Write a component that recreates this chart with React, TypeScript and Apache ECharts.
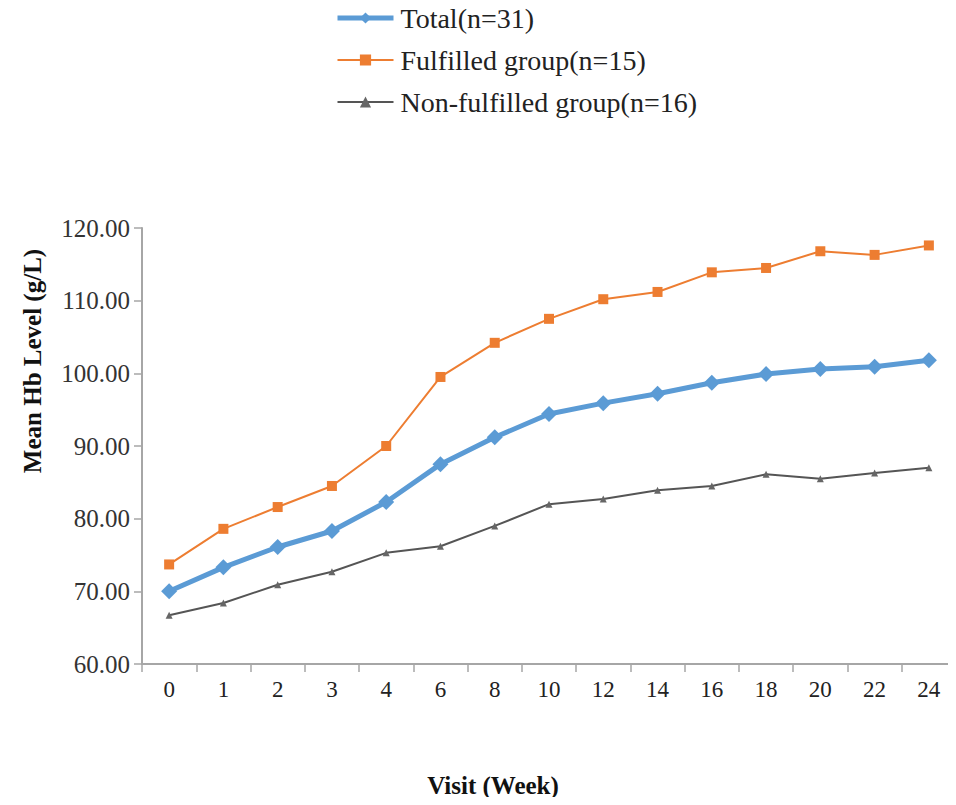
import React, { useEffect, useRef } from "react";
import * as echarts from "echarts";

const weeks = ["0", "1", "2", "3", "4", "6", "8", "10", "12", "14", "16", "18", "20", "22", "24"];
const totalValues = [70.0, 73.3, 76.1, 78.3, 82.3, 87.5, 91.2, 94.4, 95.9, 97.2, 98.7, 99.9, 100.6, 100.9, 101.8];
const fulfilledValues = [73.7, 78.6, 81.6, 84.5, 90.0, 99.5, 104.2, 107.5, 110.2, 111.2, 113.9, 114.5, 116.8, 116.3, 117.6];
const nonFulfilledValues = [66.7, 68.4, 70.9, 72.7, 75.3, 76.2, 79.0, 82.0, 82.7, 83.9, 84.5, 86.1, 85.5, 86.3, 87.0];
const seriesNames = ["Total(n=31)", "Fulfilled group(n=15)", "Non-fulfilled group(n=16)"];

const FONT = "'Liberation Serif', 'Times New Roman', serif";

export default function App() {
  const ref = useRef<HTMLDivElement>(null);
  useEffect(() => {
    if (!ref.current) return;
    const chart = echarts.init(ref.current, null, { renderer: "svg" });
    chart.setOption({
      animation: false,
      backgroundColor: "#ffffff",
      textStyle: { fontFamily: FONT },
      legend: {
        orient: "vertical",
        left: 330,
        top: -2,
        itemWidth: 56,
        itemHeight: 14,
        itemGap: 12,
        data: [
          { name: seriesNames[0], lineStyle: { width: 5 } },
          { name: seriesNames[1], lineStyle: { width: 2 } },
          { name: seriesNames[2], lineStyle: { width: 2 } },
        ],
        textStyle: { fontFamily: FONT, fontSize: 28, color: "#222", lineHeight: 30, padding: [0, 0, 0, 2] },
      },
      grid: { left: 142, top: 228, bottom: 141, right: -10 },
      xAxis: {
        type: "category",
        data: weeks,
        boundaryGap: true,
        axisLine: { lineStyle: { color: "#a6a6a6", width: 2 } },
        axisTick: { show: true, length: 8, lineStyle: { color: "#a6a6a6", width: 1.5 } },
        axisLabel: { fontFamily: FONT, fontSize: 23, color: "#222", margin: 14 },
      },
      yAxis: {
        type: "value",
        min: 60,
        max: 120,
        interval: 10,
        splitLine: { show: false },
        axisLine: { show: true, lineStyle: { color: "#a6a6a6", width: 2 } },
        axisTick: { show: true, length: 8, lineStyle: { color: "#a6a6a6", width: 1.5 } },
        axisLabel: {
          fontFamily: FONT,
          fontSize: 25,
          color: "#333",
          margin: 12,
          formatter: (v: number) => v.toFixed(2),
        },
      },
      graphic: [
        {
          type: "text",
          x: 32,
          y: 361,
          rotation: Math.PI / 2,
          style: {
            text: "Mean Hb Level (g/L)",
            font: `bold 25px ${FONT}`,
            fill: "#111",
            textAlign: "center",
            textVerticalAlign: "middle",
          },
        },
        {
          type: "text",
          x: 493,
          y: 785,
          style: {
            text: "Visit (Week)",
            font: `bold 25px ${FONT}`,
            fill: "#111",
            textAlign: "center",
            textVerticalAlign: "middle",
          },
        },
      ],
      series: [
        {
          name: seriesNames[0],
          type: "line",
          data: totalValues,
          symbol: "diamond",
          symbolSize: 16,
          lineStyle: { color: "#5B9BD5", width: 5 },
          itemStyle: { color: "#5B9BD5" },
          z: 3,
        },
        {
          name: seriesNames[1],
          type: "line",
          data: fulfilledValues,
          symbol: "rect",
          symbolSize: 10,
          lineStyle: { color: "#ED7D31", width: 2 },
          itemStyle: { color: "#ED7D31" },
          z: 2,
        },
        {
          name: seriesNames[2],
          type: "line",
          data: nonFulfilledValues,
          symbol: "triangle",
          symbolSize: 7,
          lineStyle: { color: "#555555", width: 2 },
          itemStyle: { color: "#666666" },
          z: 2,
        },
      ],
    });
    return () => chart.dispose();
  }, []);
  return <div ref={ref} style={{ width: 956, height: 805, margin: -8 }} />;
}
